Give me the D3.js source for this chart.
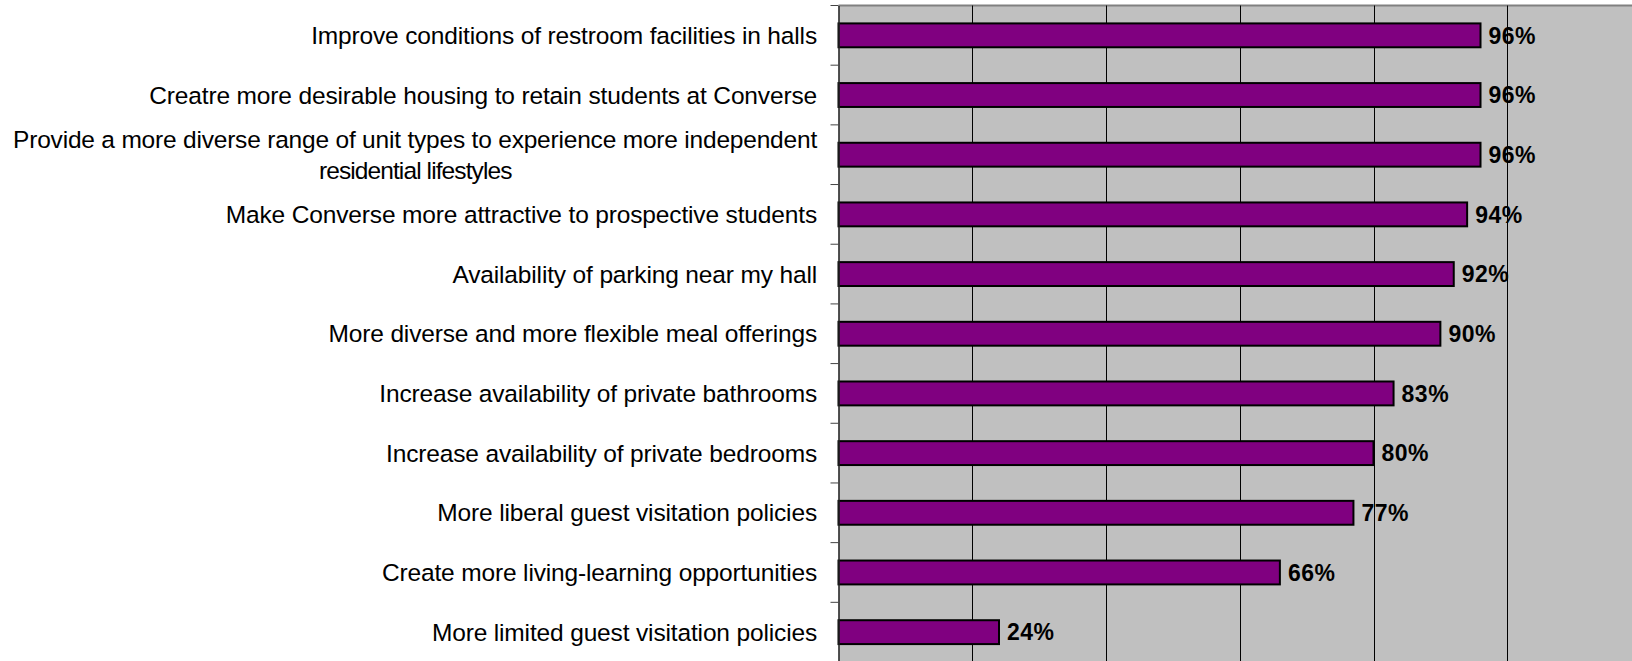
<!DOCTYPE html>
<html>
<head>
<meta charset="utf-8">
<script src="https://cdn.jsdelivr.net/npm/d3@7"></script>
<style>
  html, body { margin: 0; padding: 0; background: #ffffff; }
  svg { display: block; }
</style>
</head>
<body>
<svg id="chart" width="1632" height="661"></svg>
<script>
// Survey items, top to bottom; "\n" marks a wrapped label line
const categories = [
  "Improve conditions of restroom facilities in halls",
  "Creatre more desirable housing to retain students at Converse",
  "Provide a more diverse range of unit types to experience more independent\nresidential lifestyles",
  "Make Converse more attractive to prospective students",
  "Availability of parking near my hall",
  "More diverse and more flexible meal offerings",
  "Increase availability of private bathrooms",
  "Increase availability of private bedrooms",
  "More liberal guest visitation policies",
  "Create more living-learning opportunities",
  "More limited guest visitation policies"
];
// Share of respondents (%)
const values = [96, 96, 96, 94, 92, 90, 83, 80, 77, 66, 24];
// Vertical gridline positions (%)
const gridTicks = [20, 40, 60, 80, 100];

const data = categories.map((c, i) => ({ label: c, value: values[i] }));

const svg = d3.select("#chart");
const plot = { left: 838.5, right: 1641, top: 5.5, bottom: 662 };

const x = d3.scaleLinear().domain([0, 120]).range([plot.left, plot.right]);
const y = d3.scaleBand().domain(categories).range([plot.top, plot.bottom]).padding(0);
const barH = y.bandwidth() * 0.4;

// Plot background
svg.append("rect")
  .attr("x", plot.left).attr("y", plot.top)
  .attr("width", plot.right - plot.left).attr("height", plot.bottom - plot.top)
  .attr("fill", "#c0c0c0");

// Top border of the plot area
svg.append("line")
  .attr("x1", plot.left).attr("x2", plot.right)
  .attr("y1", plot.top).attr("y2", plot.top)
  .attr("stroke", "#808080").attr("stroke-width", 2);

// Vertical gridlines
svg.append("g")
  .selectAll("line")
  .data(gridTicks)
  .join("line")
  .attr("x1", d => Math.round(x(d)) + 0.5).attr("x2", d => Math.round(x(d)) + 0.5)
  .attr("y1", plot.top).attr("y2", plot.bottom)
  .attr("stroke", "#000").attr("stroke-width", 1);

// Bars
svg.append("g")
  .selectAll("rect")
  .data(data)
  .join("rect")
  .attr("x", x(0))
  .attr("y", d => y(d.label) + (y.bandwidth() - barH) / 2)
  .attr("width", d => x(d.value) - x(0))
  .attr("height", barH)
  .attr("fill", "#800080")
  .attr("stroke", "#000")
  .attr("stroke-width", 2);

// Category axis: line plus tick marks at band boundaries
const yAxis = svg.append("g")
  .attr("transform", `translate(${plot.left},0)`)
  .call(d3.axisLeft(y).tickSize(0).tickFormat(""));
yAxis.select(".domain").attr("stroke", "#222").attr("stroke-width", 1.5);
yAxis.append("g")
  .selectAll("line")
  .data(categories)
  .join("line")
  .attr("x1", -8).attr("x2", 0)
  .attr("y1", d => y(d)).attr("y2", d => y(d))
  .attr("stroke", "#444").attr("stroke-width", 1);

// Category labels
const labelRight = 817;
const labels = svg.append("g")
  .attr("font-family", "Arial, 'Liberation Sans', sans-serif")
  .attr("font-size", 24.5)
  .attr("fill", "#000");

data.forEach(d => {
  const lines = d.label.split("\n");
  const cy = y(d.label) + y.bandwidth() / 2;
  if (lines.length === 1) {
    labels.append("text")
      .attr("x", labelRight).attr("y", cy)
      .attr("dy", "0.35em")
      .attr("text-anchor", "end")
      .attr("letter-spacing", -0.15)
      .text(lines[0]);
  } else {
    // Wrapped label: first line flush right, second line centred under it
    const first = labels.append("text")
      .attr("x", labelRight).attr("y", cy - 15.5)
      .attr("dy", "0.35em")
      .attr("text-anchor", "end")
      .attr("letter-spacing", -0.2)
      .text(lines[0]);
    const bb = first.node().getBBox();
    labels.append("text")
      .attr("x", bb.x + bb.width / 2).attr("y", cy + 15.5)
      .attr("dy", "0.35em")
      .attr("text-anchor", "middle")
      .attr("letter-spacing", -0.9)
      .text(lines[1]);
  }
});

// Value labels at bar ends
svg.append("g")
  .selectAll("text")
  .data(data)
  .join("text")
  .attr("x", d => x(d.value) + 8)
  .attr("y", d => y(d.label) + y.bandwidth() / 2)
  .attr("dy", "0.36em")
  .attr("font-family", "Arial, 'Liberation Sans', sans-serif")
  .attr("font-weight", "bold")
  .attr("font-size", 23)
  .attr("letter-spacing", 0.5)
  .attr("fill", "#000")
  .text(d => d.value + "%");
</script>
</body>
</html>
